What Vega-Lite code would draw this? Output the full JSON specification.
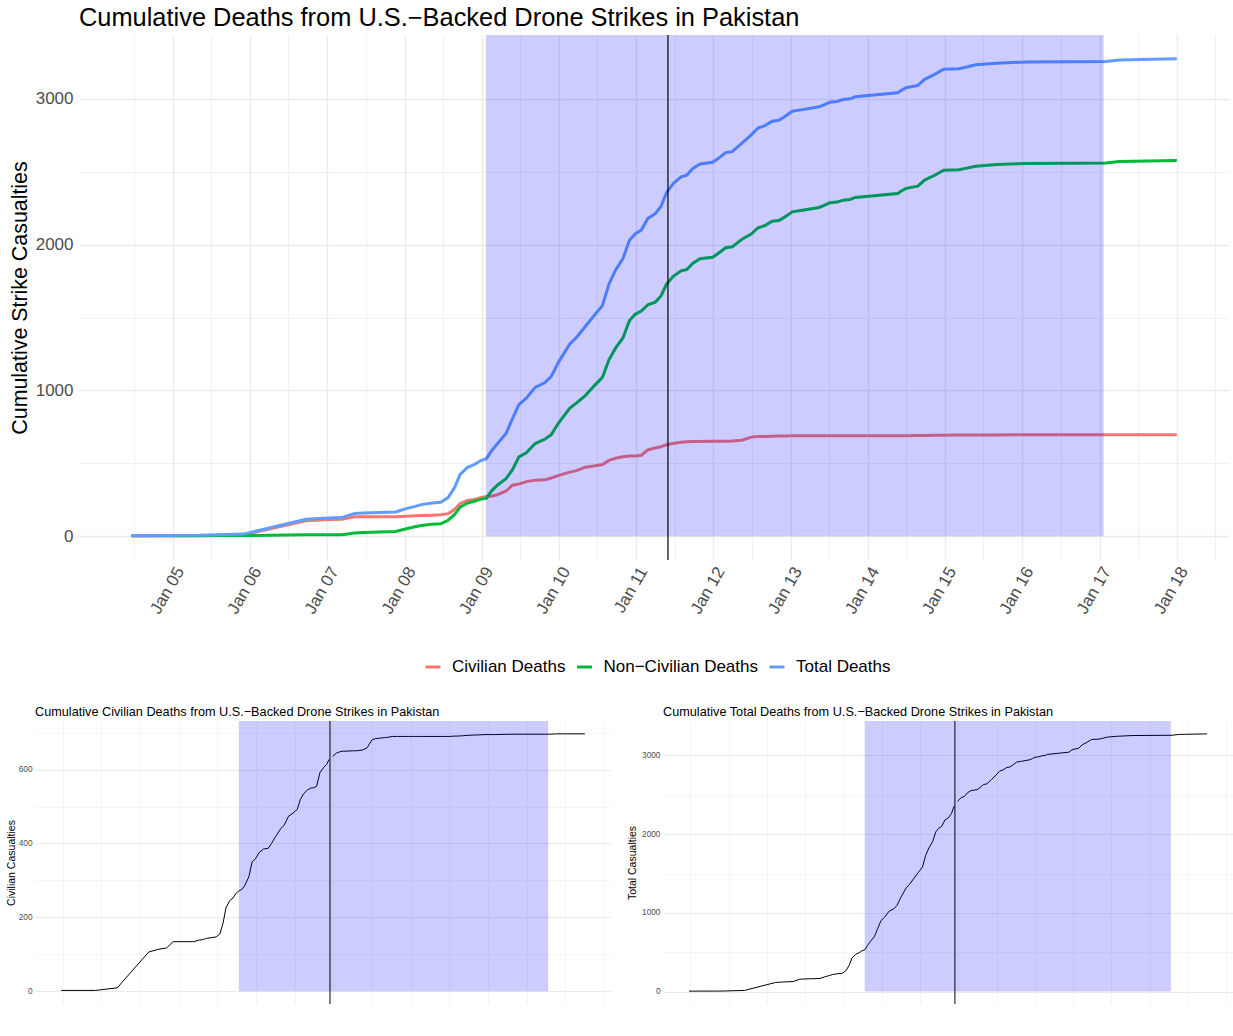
{
  "$schema": "https://vega.github.io/schema/vega-lite/v6.json",
  "padding": {"left": 6, "top": 6, "right": 0, "bottom": 2},
  "background": "white",
  "columns": 1,
  "spacing": 88,
  "config": {
    "view": {"stroke": null},
    "font": "Liberation Sans",
    "axis": {"domain": false, "ticks": false, "gridColor": "#EBEBEB", "labelColor": "#4D4D4D", "titleColor": "black", "titleFontWeight": "normal", "labelFont": "Liberation Sans", "titleFont": "Liberation Sans", "labelOverlap": false, "labelFlush": false},
    "title": {"font": "Liberation Sans", "fontWeight": "normal", "color": "black", "anchor": "start", "frame": "group"},
    "legend": {"labelFont": "Liberation Sans"}
  },
  "datasets": {
    "deaths": [
      {"date": "2004-06-18", "civilian": 2, "noncivilian": 4, "total": 6, "period": "pre"},
      {"date": "2005-05-08", "civilian": 2, "noncivilian": 5, "total": 7, "period": "pre"},
      {"date": "2005-11-30", "civilian": 9, "noncivilian": 6, "total": 15, "period": "pre"},
      {"date": "2006-01-13", "civilian": 24, "noncivilian": 6, "total": 30, "period": "pre"},
      {"date": "2006-09-22", "civilian": 106, "noncivilian": 10, "total": 116, "period": "pre"},
      {"date": "2006-12-15", "civilian": 113, "noncivilian": 10, "total": 123, "period": "pre"},
      {"date": "2007-03-10", "civilian": 117, "noncivilian": 11, "total": 128, "period": "pre"},
      {"date": "2007-05-10", "civilian": 134, "noncivilian": 23, "total": 157, "period": "pre"},
      {"date": "2007-06-20", "civilian": 134, "noncivilian": 26, "total": 160, "period": "pre"},
      {"date": "2007-11-20", "civilian": 134, "noncivilian": 33, "total": 167, "period": "pre"},
      {"date": "2008-01-05", "civilian": 138, "noncivilian": 50, "total": 188, "period": "pre"},
      {"date": "2008-02-20", "civilian": 140, "noncivilian": 65, "total": 205, "period": "pre"},
      {"date": "2008-03-20", "civilian": 143, "noncivilian": 74, "total": 217, "period": "pre"},
      {"date": "2008-05-10", "civilian": 145, "noncivilian": 83, "total": 228, "period": "pre"},
      {"date": "2008-06-20", "civilian": 147, "noncivilian": 86, "total": 233, "period": "pre"},
      {"date": "2008-07-25", "civilian": 155, "noncivilian": 110, "total": 265, "period": "pre"},
      {"date": "2008-08-25", "civilian": 185, "noncivilian": 150, "total": 335, "period": "pre"},
      {"date": "2008-09-20", "civilian": 225, "noncivilian": 200, "total": 425, "period": "pre"},
      {"date": "2008-10-25", "civilian": 245, "noncivilian": 228, "total": 473, "period": "pre"},
      {"date": "2008-11-25", "civilian": 252, "noncivilian": 240, "total": 492, "period": "pre"},
      {"date": "2008-12-25", "civilian": 265, "noncivilian": 253, "total": 518, "period": "pre"},
      {"date": "2009-01-23", "civilian": 272, "noncivilian": 262, "total": 534, "period": "pre"},
      {"date": "2009-02-15", "civilian": 275, "noncivilian": 310, "total": 585, "period": "pre"},
      {"date": "2009-03-15", "civilian": 285, "noncivilian": 350, "total": 635, "period": "pre"},
      {"date": "2009-04-25", "civilian": 310, "noncivilian": 395, "total": 705, "period": "pre"},
      {"date": "2009-05-25", "civilian": 350, "noncivilian": 455, "total": 805, "period": "pre"},
      {"date": "2009-06-25", "civilian": 358, "noncivilian": 545, "total": 903, "period": "pre"},
      {"date": "2009-07-30", "civilian": 375, "noncivilian": 572, "total": 947, "period": "pre"},
      {"date": "2009-09-10", "civilian": 385, "noncivilian": 636, "total": 1021, "period": "pre"},
      {"date": "2009-10-25", "civilian": 387, "noncivilian": 665, "total": 1052, "period": "pre"},
      {"date": "2009-11-25", "civilian": 400, "noncivilian": 697, "total": 1097, "period": "pre"},
      {"date": "2009-12-31", "civilian": 418, "noncivilian": 780, "total": 1198, "period": "pre"},
      {"date": "2010-02-20", "civilian": 440, "noncivilian": 877, "total": 1317, "period": "pre"},
      {"date": "2010-03-25", "civilian": 450, "noncivilian": 915, "total": 1365, "period": "pre"},
      {"date": "2010-05-05", "civilian": 474, "noncivilian": 965, "total": 1439, "period": "pre"},
      {"date": "2010-06-15", "civilian": 482, "noncivilian": 1030, "total": 1512, "period": "pre"},
      {"date": "2010-07-25", "civilian": 492, "noncivilian": 1090, "total": 1582, "period": "pre"},
      {"date": "2010-08-25", "civilian": 520, "noncivilian": 1210, "total": 1730, "period": "pre"},
      {"date": "2010-09-25", "civilian": 535, "noncivilian": 1290, "total": 1825, "period": "pre"},
      {"date": "2010-10-30", "civilian": 545, "noncivilian": 1360, "total": 1905, "period": "pre"},
      {"date": "2010-11-30", "civilian": 550, "noncivilian": 1480, "total": 2030, "period": "pre"},
      {"date": "2010-12-28", "civilian": 551, "noncivilian": 1524, "total": 2075, "period": "pre"},
      {"date": "2011-01-25", "civilian": 555, "noncivilian": 1545, "total": 2100, "period": "pre"},
      {"date": "2011-02-25", "civilian": 592, "noncivilian": 1588, "total": 2180, "period": "pre"},
      {"date": "2011-04-01", "civilian": 606, "noncivilian": 1606, "total": 2212, "period": "pre"},
      {"date": "2011-04-28", "civilian": 614, "noncivilian": 1648, "total": 2262, "period": "pre"},
      {"date": "2011-05-24", "civilian": 628, "noncivilian": 1728, "total": 2356, "period": "pre"},
      {"date": "2011-06-25", "civilian": 636, "noncivilian": 1783, "total": 2419, "period": "post"},
      {"date": "2011-08-01", "civilian": 645, "noncivilian": 1820, "total": 2465, "period": "post"},
      {"date": "2011-08-28", "civilian": 648, "noncivilian": 1829, "total": 2477, "period": "post"},
      {"date": "2011-09-26", "civilian": 650, "noncivilian": 1873, "total": 2523, "period": "post"},
      {"date": "2011-10-30", "civilian": 650, "noncivilian": 1903, "total": 2553, "period": "post"},
      {"date": "2011-12-28", "civilian": 651, "noncivilian": 1914, "total": 2565, "period": "post"},
      {"date": "2012-01-25", "civilian": 651, "noncivilian": 1941, "total": 2592, "period": "post"},
      {"date": "2012-02-28", "civilian": 652, "noncivilian": 1979, "total": 2631, "period": "post"},
      {"date": "2012-03-30", "civilian": 653, "noncivilian": 1985, "total": 2638, "period": "post"},
      {"date": "2012-05-15", "civilian": 659, "noncivilian": 2037, "total": 2696, "period": "post"},
      {"date": "2012-06-28", "civilian": 680, "noncivilian": 2073, "total": 2753, "period": "post"},
      {"date": "2012-07-30", "civilian": 684, "noncivilian": 2116, "total": 2800, "period": "post"},
      {"date": "2012-09-01", "civilian": 685, "noncivilian": 2131, "total": 2816, "period": "post"},
      {"date": "2012-10-05", "civilian": 686, "noncivilian": 2160, "total": 2846, "period": "post"},
      {"date": "2012-11-06", "civilian": 687, "noncivilian": 2166, "total": 2853, "period": "post"},
      {"date": "2012-12-06", "civilian": 688, "noncivilian": 2192, "total": 2880, "period": "post"},
      {"date": "2013-01-08", "civilian": 690, "noncivilian": 2225, "total": 2915, "period": "post"},
      {"date": "2013-02-25", "civilian": 690, "noncivilian": 2236, "total": 2926, "period": "post"},
      {"date": "2013-05-15", "civilian": 690, "noncivilian": 2255, "total": 2945, "period": "post"},
      {"date": "2013-06-10", "civilian": 690, "noncivilian": 2271, "total": 2961, "period": "post"},
      {"date": "2013-07-05", "civilian": 690, "noncivilian": 2287, "total": 2977, "period": "post"},
      {"date": "2013-08-08", "civilian": 690, "noncivilian": 2292, "total": 2982, "period": "post"},
      {"date": "2013-09-06", "civilian": 690, "noncivilian": 2305, "total": 2995, "period": "post"},
      {"date": "2013-10-08", "civilian": 690, "noncivilian": 2310, "total": 3000, "period": "post"},
      {"date": "2013-11-02", "civilian": 690, "noncivilian": 2324, "total": 3014, "period": "post"},
      {"date": "2014-05-22", "civilian": 690, "noncivilian": 2351, "total": 3041, "period": "post"},
      {"date": "2014-06-10", "civilian": 690, "noncivilian": 2370, "total": 3060, "period": "post"},
      {"date": "2014-07-01", "civilian": 690, "noncivilian": 2386, "total": 3076, "period": "post"},
      {"date": "2014-08-25", "civilian": 691, "noncivilian": 2401, "total": 3092, "period": "post"},
      {"date": "2014-09-26", "civilian": 691, "noncivilian": 2443, "total": 3134, "period": "post"},
      {"date": "2014-11-13", "civilian": 692, "noncivilian": 2476, "total": 3168, "period": "post"},
      {"date": "2014-12-25", "civilian": 693, "noncivilian": 2510, "total": 3203, "period": "post"},
      {"date": "2015-03-07", "civilian": 694, "noncivilian": 2513, "total": 3207, "period": "post"},
      {"date": "2015-04-08", "civilian": 694, "noncivilian": 2523, "total": 3217, "period": "post"},
      {"date": "2015-05-26", "civilian": 695, "noncivilian": 2538, "total": 3233, "period": "post"},
      {"date": "2015-09-01", "civilian": 695, "noncivilian": 2549, "total": 3244, "period": "post"},
      {"date": "2016-01-25", "civilian": 696, "noncivilian": 2557, "total": 3253, "period": "post"},
      {"date": "2017-01-30", "civilian": 696, "noncivilian": 2560, "total": 3256, "period": "post"},
      {"date": "2017-04-05", "civilian": 697, "noncivilian": 2570, "total": 3267, "period": "post"},
      {"date": "2018-01-01", "civilian": 697, "noncivilian": 2577, "total": 3274, "period": "post"}
    ]
  },
  "concat": [
    {
      "spacing": -27,
      "hconcat": [
        {
          "width": 1,
          "height": 1,
          "data": {"values": []},
          "mark": {"type": "point", "opacity": 0},
          "encoding": {}
        },
        {
          "width": 1150,
          "height": 525,
          "title": {"text": "Cumulative Deaths from U.S.−Backed Drone Strikes in Pakistan", "fontSize": 25.4, "baseline": "bottom", "offset": -22},
          "layer": [
            {
              "data": {"name": "deaths"},
              "transform": [{"fold": ["civilian", "noncivilian", "total"], "as": ["series", "deaths"]}],
              "mark": {"type": "line", "strokeWidth": 3},
              "encoding": {
                "x": {
                  "field": "date", "type": "temporal",
                  "scale": {"type": "utc", "domain": [{"year": 2003, "month": 10, "date": 14, "utc": true}, {"year": 2018, "month": 9, "date": 5, "utc": true}]},
                  "axis": {
                    "title": null,
                    "values": [
                      {"year": 2004, "month": 7, "date": 1, "utc": true}, {"year": 2005, "month": 1, "date": 1, "utc": true},
                      {"year": 2005, "month": 7, "date": 1, "utc": true}, {"year": 2006, "month": 1, "date": 1, "utc": true},
                      {"year": 2006, "month": 7, "date": 1, "utc": true}, {"year": 2007, "month": 1, "date": 1, "utc": true},
                      {"year": 2007, "month": 7, "date": 1, "utc": true}, {"year": 2008, "month": 1, "date": 1, "utc": true},
                      {"year": 2008, "month": 7, "date": 1, "utc": true}, {"year": 2009, "month": 1, "date": 1, "utc": true},
                      {"year": 2009, "month": 7, "date": 1, "utc": true}, {"year": 2010, "month": 1, "date": 1, "utc": true},
                      {"year": 2010, "month": 7, "date": 1, "utc": true}, {"year": 2011, "month": 1, "date": 1, "utc": true},
                      {"year": 2011, "month": 7, "date": 1, "utc": true}, {"year": 2012, "month": 1, "date": 1, "utc": true},
                      {"year": 2012, "month": 7, "date": 1, "utc": true}, {"year": 2013, "month": 1, "date": 1, "utc": true},
                      {"year": 2013, "month": 7, "date": 1, "utc": true}, {"year": 2014, "month": 1, "date": 1, "utc": true},
                      {"year": 2014, "month": 7, "date": 1, "utc": true}, {"year": 2015, "month": 1, "date": 1, "utc": true},
                      {"year": 2015, "month": 7, "date": 1, "utc": true}, {"year": 2016, "month": 1, "date": 1, "utc": true},
                      {"year": 2016, "month": 7, "date": 1, "utc": true}, {"year": 2017, "month": 1, "date": 1, "utc": true},
                      {"year": 2017, "month": 7, "date": 1, "utc": true}, {"year": 2018, "month": 1, "date": 1, "utc": true},
                      {"year": 2018, "month": 7, "date": 1, "utc": true}
                    ],
                    "labelExpr": "utcmonth(datum.value) == 0 ? utcFormat(datum.value, '%b %y') : ''",
                    "labelAngle": -60, "labelAlign": "right", "labelBaseline": "top", "labelOverlap": false,
                    "labelFontSize": 17, "labelPadding": 4,
                    "gridWidth": {"condition": {"test": "utcmonth(datum.value) == 0", "value": 1.4}, "value": 0.7}
                  }
                },
                "y": {
                  "field": "deaths", "type": "quantitative",
                  "scale": {"domain": [-162.7, 3437.7], "nice": false, "zero": false},
                  "axis": {
                    "title": "Cumulative Strike Casualties", "titleFontSize": 21.4,
                    "values": [0, 500, 1000, 1500, 2000, 2500, 3000], "format": "d", "labelOverlap": false,
                    "labelExpr": "datum.value % 1000 == 0 ? datum.label : ''",
                    "labelFontSize": 17, "labelPadding": 6, "minExtent": 46, "maxExtent": 46, "titlePadding": 3,
                    "gridWidth": {"condition": {"test": "datum.value % 1000 == 0", "value": 1.4}, "value": 0.7}
                  }
                },
                "color": {
                  "field": "series", "type": "nominal",
                  "scale": {"domain": ["civilian", "noncivilian", "total"], "range": ["#F8766D", "#00BA38", "#619CFF"]},
                  "legend": {
                    "title": null, "orient": "none", "legendX": 389, "legendY": 623, "direction": "horizontal",
                    "symbolType": "stroke", "symbolSize": 225, "symbolStrokeWidth": 3,
                    "labelFontSize": 17, "labelColor": "black", "labelOffset": 10, "columnPadding": 4.5, "labelLimit": 400,
                    "labelExpr": "datum.label == 'civilian' ? 'Civilian Deaths' : datum.label == 'noncivilian' ? 'Non−Civilian Deaths' : 'Total Deaths'"
                  }
                }
              }
            },
            {
              "data": {"values": [{"start": "2009-01-20", "end": "2017-01-20"}]},
              "mark": {"type": "rect", "color": "#0000FF", "opacity": 0.2},
              "encoding": {
                "x": {"field": "start", "type": "temporal"},
                "x2": {"field": "end"},
                "y": {"datum": 0},
                "y2": {"value": 0}
              }
            },
            {
              "data": {"values": [{"date": "2011-05-31"}]},
              "mark": {"type": "rule", "color": "black", "strokeWidth": 1.2},
              "encoding": {"x": {"field": "date", "type": "temporal"}}
            }
          ]
        }
      ]
    },
    {
      "spacing": 26,
      "vconcat": [
        {
          "spacing": 15,
          "hconcat": [
            {
              "width": 576,
              "height": 283,
              "title": {"text": "Cumulative Civilian Deaths from U.S.−Backed Drone Strikes in Pakistan", "fontSize": 12.7, "baseline": "bottom", "offset": -10.7},
              "layer": [
                {
                  "data": {"name": "deaths"},
                  "mark": {"type": "line", "color": "black", "strokeWidth": 1},
                  "encoding": {
                    "x": {
                      "field": "date", "type": "temporal",
                      "scale": {"type": "utc", "domain": [{"year": 2003, "month": 10, "date": 14, "utc": true}, {"year": 2018, "month": 9, "date": 5, "utc": true}]},
                      "axis": {
                        "title": null, "labels": true,
                        "values": [
                          {"year": 2004, "month": 7, "date": 1, "utc": true}, {"year": 2005, "month": 1, "date": 1, "utc": true},
                          {"year": 2005, "month": 7, "date": 1, "utc": true}, {"year": 2006, "month": 1, "date": 1, "utc": true},
                          {"year": 2006, "month": 7, "date": 1, "utc": true}, {"year": 2007, "month": 1, "date": 1, "utc": true},
                          {"year": 2007, "month": 7, "date": 1, "utc": true}, {"year": 2008, "month": 1, "date": 1, "utc": true},
                          {"year": 2008, "month": 7, "date": 1, "utc": true}, {"year": 2009, "month": 1, "date": 1, "utc": true},
                          {"year": 2009, "month": 7, "date": 1, "utc": true}, {"year": 2010, "month": 1, "date": 1, "utc": true},
                          {"year": 2010, "month": 7, "date": 1, "utc": true}, {"year": 2011, "month": 1, "date": 1, "utc": true},
                          {"year": 2011, "month": 7, "date": 1, "utc": true}, {"year": 2012, "month": 1, "date": 1, "utc": true},
                          {"year": 2012, "month": 7, "date": 1, "utc": true}, {"year": 2013, "month": 1, "date": 1, "utc": true},
                          {"year": 2013, "month": 7, "date": 1, "utc": true}, {"year": 2014, "month": 1, "date": 1, "utc": true},
                          {"year": 2014, "month": 7, "date": 1, "utc": true}, {"year": 2015, "month": 1, "date": 1, "utc": true},
                          {"year": 2015, "month": 7, "date": 1, "utc": true}, {"year": 2016, "month": 1, "date": 1, "utc": true},
                          {"year": 2016, "month": 7, "date": 1, "utc": true}, {"year": 2017, "month": 1, "date": 1, "utc": true},
                          {"year": 2017, "month": 7, "date": 1, "utc": true}, {"year": 2018, "month": 1, "date": 1, "utc": true},
                          {"year": 2018, "month": 7, "date": 1, "utc": true}
                        ],
                        "labelExpr": "utcmonth(datum.value) == 0 ? utcFormat(datum.value, '%b %y') : ''",
                        "labelAngle": -60, "labelAlign": "right", "labelBaseline": "top", "labelOverlap": false,
                        "labelFontSize": 8.4, "labelPadding": 3, "labelColor": "#4D4D4D",
                        "gridWidth": {"condition": {"test": "utcmonth(datum.value) == 0", "value": 1.0}, "value": 0.5}
                      }
                    },
                    "y": {
                      "field": "civilian", "type": "quantitative",
                      "scale": {"domain": [-34.8, 731.8], "nice": false, "zero": false},
                      "axis": {
                        "title": "Civilian Casualties", "titleFontSize": 10.5,
                        "values": [0, 100, 200, 300, 400, 500, 600, 700], "format": "d", "labelOverlap": false,
                        "labelExpr": "datum.value % 200 == 0 ? datum.label : ''",
                        "labelFontSize": 8.3, "labelPadding": 3, "minExtent": 17, "maxExtent": 17, "titlePadding": 1.5,
                        "gridWidth": {"condition": {"test": "datum.value % 200 == 0", "value": 1.0}, "value": 0.5}
                      }
                    },
                    "detail": {"field": "period", "type": "nominal"}
                  }
                },
                {
                  "data": {"values": [{"start": "2009-01-20", "end": "2017-01-20"}]},
                  "mark": {"type": "rect", "color": "#0000FF", "opacity": 0.2},
                  "encoding": {
                    "x": {"field": "start", "type": "temporal"},
                    "x2": {"field": "end"},
                    "y": {"datum": 0},
                    "y2": {"value": 0}
                  }
                },
                {
                  "data": {"values": [{"date": "2011-05-31"}]},
                  "mark": {"type": "rule", "color": "black", "strokeWidth": 1},
                  "encoding": {"x": {"field": "date", "type": "temporal"}}
                }
              ]
            },
            {
              "width": 570,
              "height": 283,
              "title": {"text": "Cumulative Total Deaths from U.S.−Backed Drone Strikes in Pakistan", "fontSize": 12.7, "baseline": "bottom", "offset": -10.7},
              "layer": [
                {
                  "data": {"name": "deaths"},
                  "mark": {"type": "line", "color": "black", "strokeWidth": 1},
                  "encoding": {
                    "x": {
                      "field": "date", "type": "temporal",
                      "scale": {"type": "utc", "domain": [{"year": 2003, "month": 10, "date": 14, "utc": true}, {"year": 2018, "month": 9, "date": 5, "utc": true}]},
                      "axis": {
                        "title": null, "labels": true,
                        "values": [
                          {"year": 2004, "month": 7, "date": 1, "utc": true}, {"year": 2005, "month": 1, "date": 1, "utc": true},
                          {"year": 2005, "month": 7, "date": 1, "utc": true}, {"year": 2006, "month": 1, "date": 1, "utc": true},
                          {"year": 2006, "month": 7, "date": 1, "utc": true}, {"year": 2007, "month": 1, "date": 1, "utc": true},
                          {"year": 2007, "month": 7, "date": 1, "utc": true}, {"year": 2008, "month": 1, "date": 1, "utc": true},
                          {"year": 2008, "month": 7, "date": 1, "utc": true}, {"year": 2009, "month": 1, "date": 1, "utc": true},
                          {"year": 2009, "month": 7, "date": 1, "utc": true}, {"year": 2010, "month": 1, "date": 1, "utc": true},
                          {"year": 2010, "month": 7, "date": 1, "utc": true}, {"year": 2011, "month": 1, "date": 1, "utc": true},
                          {"year": 2011, "month": 7, "date": 1, "utc": true}, {"year": 2012, "month": 1, "date": 1, "utc": true},
                          {"year": 2012, "month": 7, "date": 1, "utc": true}, {"year": 2013, "month": 1, "date": 1, "utc": true},
                          {"year": 2013, "month": 7, "date": 1, "utc": true}, {"year": 2014, "month": 1, "date": 1, "utc": true},
                          {"year": 2014, "month": 7, "date": 1, "utc": true}, {"year": 2015, "month": 1, "date": 1, "utc": true},
                          {"year": 2015, "month": 7, "date": 1, "utc": true}, {"year": 2016, "month": 1, "date": 1, "utc": true},
                          {"year": 2016, "month": 7, "date": 1, "utc": true}, {"year": 2017, "month": 1, "date": 1, "utc": true},
                          {"year": 2017, "month": 7, "date": 1, "utc": true}, {"year": 2018, "month": 1, "date": 1, "utc": true},
                          {"year": 2018, "month": 7, "date": 1, "utc": true}
                        ],
                        "labelExpr": "utcmonth(datum.value) == 0 ? utcFormat(datum.value, '%b %y') : ''",
                        "labelAngle": -60, "labelAlign": "right", "labelBaseline": "top", "labelOverlap": false,
                        "labelFontSize": 8.4, "labelPadding": 3, "labelColor": "#4D4D4D",
                        "gridWidth": {"condition": {"test": "utcmonth(datum.value) == 0", "value": 1.0}, "value": 0.5}
                      }
                    },
                    "y": {
                      "field": "total", "type": "quantitative",
                      "scale": {"domain": [-157.4, 3437.4], "nice": false, "zero": false},
                      "axis": {
                        "title": "Total Casualties", "titleFontSize": 10.5,
                        "values": [0, 500, 1000, 1500, 2000, 2500, 3000], "format": "d", "labelOverlap": false,
                        "labelExpr": "datum.value % 1000 == 0 ? datum.label : ''",
                        "labelFontSize": 8.3, "labelPadding": 3, "minExtent": 22, "maxExtent": 22, "titlePadding": 3.5,
                        "gridWidth": {"condition": {"test": "datum.value % 1000 == 0", "value": 1.0}, "value": 0.5}
                      }
                    },
                    "detail": {"field": "period", "type": "nominal"}
                  }
                },
                {
                  "data": {"values": [{"start": "2009-01-20", "end": "2017-01-20"}]},
                  "mark": {"type": "rect", "color": "#0000FF", "opacity": 0.2},
                  "encoding": {
                    "x": {"field": "start", "type": "temporal"},
                    "x2": {"field": "end"},
                    "y": {"datum": 0},
                    "y2": {"value": 0}
                  }
                },
                {
                  "data": {"values": [{"date": "2011-05-31"}]},
                  "mark": {"type": "rule", "color": "black", "strokeWidth": 1},
                  "encoding": {"x": {"field": "date", "type": "temporal"}}
                }
              ]
            }
          ]
        },
        {
          "width": 1,
          "height": 1,
          "data": {"values": []},
          "mark": {"type": "point", "opacity": 0},
          "encoding": {}
        }
      ]
    }
  ]
}
